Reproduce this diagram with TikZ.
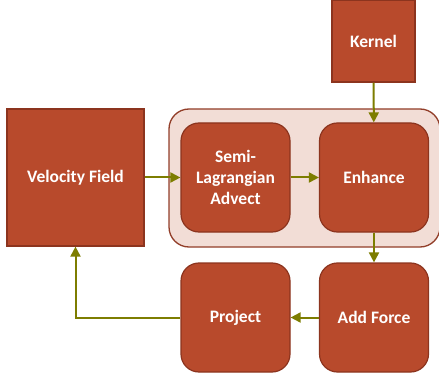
\documentclass[tikz,border=0pt]{standalone}
\usepackage{fontspec}
\setmainfont{Carlito}
\usepackage{xcolor}
\usetikzlibrary{positioning, calc, arrows.meta}

\definecolor{brick}{RGB}{184,74,44}
\definecolor{brickline}{RGB}{140,52,30}
\definecolor{blush}{RGB}{242,221,214}
\definecolor{olivearrow}{RGB}{125,125,0}

\tikzset{
  stage/.style={draw=brickline, line width=1.2pt, fill=brick, text=white,
    font=\fontsize{17.5}{21}\selectfont\bfseries, align=center,
    inner sep=0pt, minimum width=109pt, minimum height=109pt,
    rounded corners=18pt},
  block/.style={stage, rounded corners=0pt},
  flow/.style={olivearrow, line width=2pt, -{Triangle[length=10pt,width=10pt]}}
}

\begin{document}
\begin{tikzpicture}[x=1pt,y=1pt]
      \useasboundingbox (0,0) rectangle (439,378);
      % grouping panel behind advect and enhance
      \filldraw[fill=blush, draw=brickline!95, line width=1.3pt, rounded corners=20pt]
        (169,269) rectangle (440,131);
      \node[block, minimum width=137pt, minimum height=137pt] (vel) at (75.5,200.5) {Velocity Field};
      \node[block, minimum width=83pt, minimum height=82pt] (kernel) at (373.5,337) {Kernel};
      \node[stage] (advect) at (235.5,200.5) {Semi-\\Lagrangian\\Advect};
      \node[stage] (enhance) at (374,200.5) {Enhance};
      \node[stage] (force) at (374,60.5) {Add Force};
      \node[stage] (project) at (235.5,60.5) {Project};
      \draw[flow] (vel) -- (advect);
      \draw[flow] (advect) -- (enhance);
      \draw[flow] (kernel) -- (enhance);
      \draw[flow] (enhance) -- (force);
      \draw[flow] (force) -- (project);
      \draw[flow] (project.west) -| (vel.south);
    \end{tikzpicture}
\end{document}
